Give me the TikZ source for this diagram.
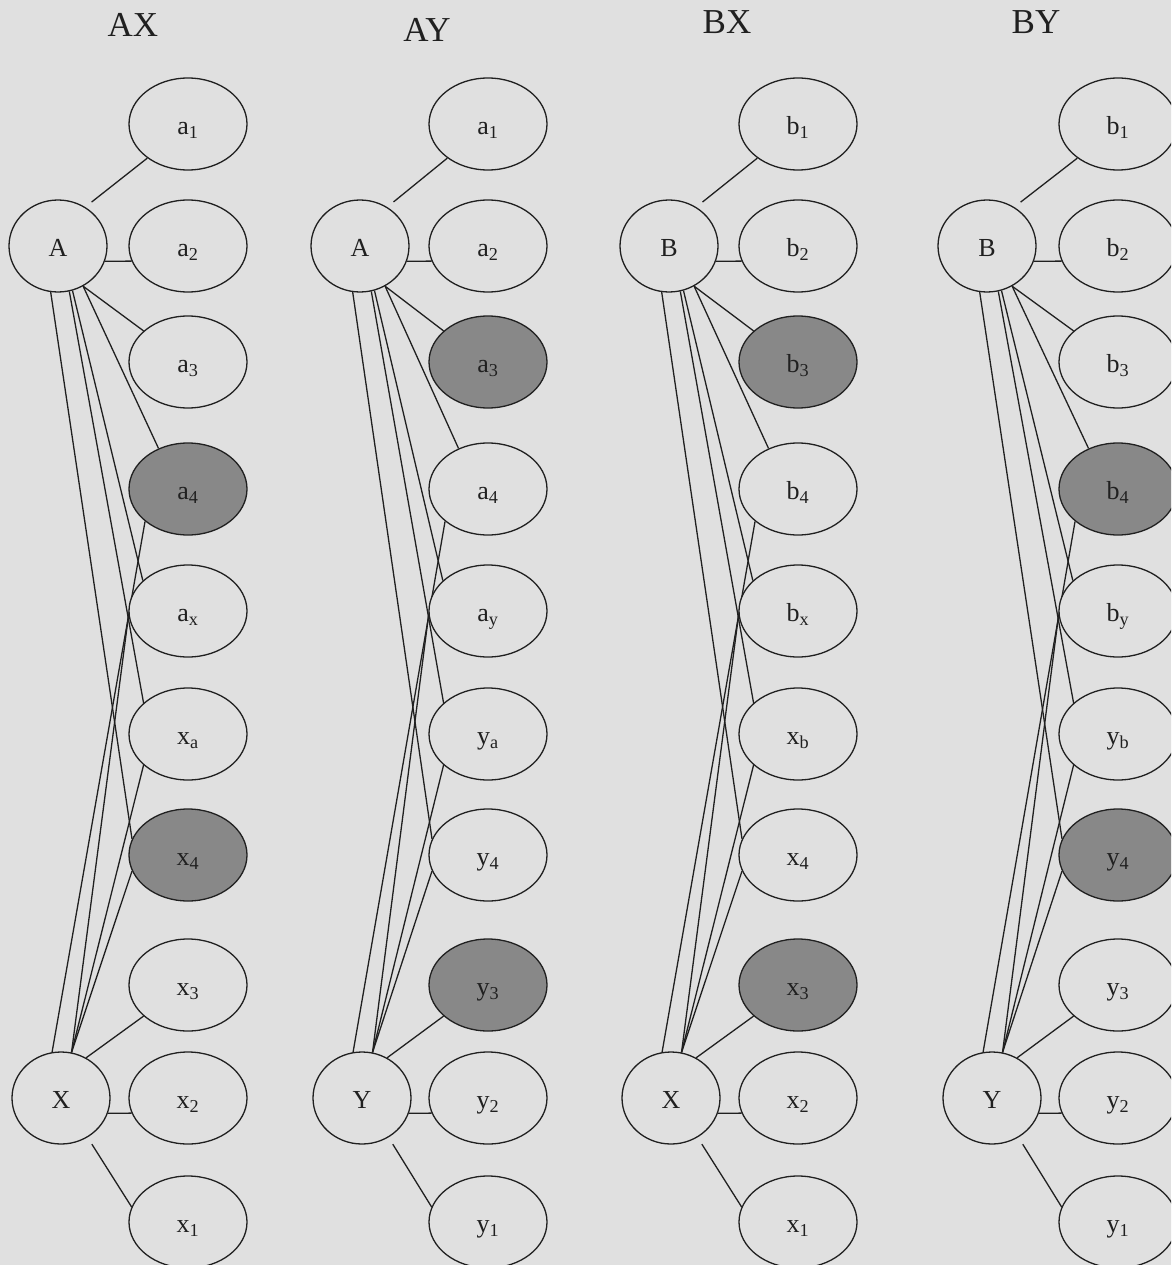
\documentclass[tikz,border=0pt]{standalone}
\usepackage{fontspec}
\setmainfont{Liberation Serif}
\usetikzlibrary{shapes.geometric}
\definecolor{bgcol}{RGB}{224,224,224}
\definecolor{shadecol}{RGB}{136,136,136}
\definecolor{inkcol}{RGB}{32,32,32}
\pgfdeclarelayer{backlayer}
\pgfdeclarelayer{edgelayer}
\pgfsetlayers{backlayer,edgelayer,main}
% #1 prefix, #2 x top node, #3 x bottom node, #4 x right column,
% #5 top label, #6 bottom label, #7 top letter, #8 bottom letter, #9 shaded index k (k and 11-k)
\newcommand\mycol[9]{%
  \node[lnode] (#1T) at (#2,246) {#5};
  \node[lnode] (#1B) at (#3,1098) {#6};
  \foreach \i/\yy/\lab in {1/124/{#7\textsubscript{1}},2/246/{#7\textsubscript{2}},3/362/{#7\textsubscript{3}},4/489/{#7\textsubscript{4}},5/611/{#7\textsubscript{#8}},6/734/{#8\textsubscript{#7}},7/855/{#8\textsubscript{4}},8/985/{#8\textsubscript{3}},9/1098/{#8\textsubscript{2}},10/1222/{#8\textsubscript{1}}}{%
    \pgfmathtruncatemacro\sh{(\i==#9)||(\i==11-#9)}%
    \ifnum\sh=1 \def\fc{shadecol}\else\def\fc{bgcol}\fi
    \node[rnode, fill=\fc] (#1r\i) at (#4,\yy) {\lab};
  }
  \begin{pgfonlayer}{edgelayer}
  \draw[edge, shorten <=8pt] (#1T.55) -- (#1r1.-140);
  \draw[edge] (#1T.-18) -- (#1r2.-165);
  \draw[edge] (#1T.-58) -- (#1r3.145);
  \draw[edge] (#1T.-58) -- (#1r4.126);
  \draw[edge] (#1T.-72) -- (#1r5.146);
  \draw[edge] (#1T.-76) -- (#1r6.145);
  \draw[edge] (#1T.-99) -- (#1r7.164);
  \draw[edge] (#1B.101) -- (#1r4.-143);
  \draw[edge] (#1B.77) -- (#1r5.-176);
  \draw[edge] (#1B.77) -- (#1r6.-145);
  \draw[edge] (#1B.77) -- (#1r7.-164);
  \draw[edge] (#1B.58) -- (#1r8.-145);
  \draw[edge] (#1B.-18) -- (#1r9.-165);
  \draw[edge, shorten <=8pt] (#1B.-56) -- (#1r10.165);
  \end{pgfonlayer}
}
\begin{document}
\begin{tikzpicture}[x=1pt,y=-1pt,
  lnode/.style={ellipse, draw=inkcol, line width=1.3pt, fill=bgcol, minimum width=98pt, minimum height=92pt, inner sep=0pt, text height=21pt, text depth=0pt, text=inkcol, font=\fontsize{26}{30}\selectfont},
  rnode/.style={lnode, minimum width=118pt},
  edge/.style={draw=inkcol, line width=1.3pt},
  title/.style={anchor=base, text=inkcol, font=\fontsize{35}{40}\selectfont}]
\begin{pgfonlayer}{backlayer}
\fill[bgcol] (0,0) rectangle (1171,1265);
\end{pgfonlayer}
\useasboundingbox (0,0) rectangle (1171,1265);
\begin{scope}
\clip (0,0) rectangle (1171,1265);
\node[title] (t1) at (133,37) {AX};
\node[title] (t2) at (427,42) {AY};
\node[title] (t3) at (727,34) {BX};
\node[title] (t4) at (1036,34) {BY};
\mycol{c1}{58}{61}{188}{A}{X}{a}{x}{4}
\mycol{c2}{360}{362}{488}{A}{Y}{a}{y}{3}
\mycol{c3}{669}{671}{798}{B}{X}{b}{x}{3}
\mycol{c4}{987}{992}{1118}{B}{Y}{b}{y}{4}
\end{scope}
\end{tikzpicture}
\end{document}
